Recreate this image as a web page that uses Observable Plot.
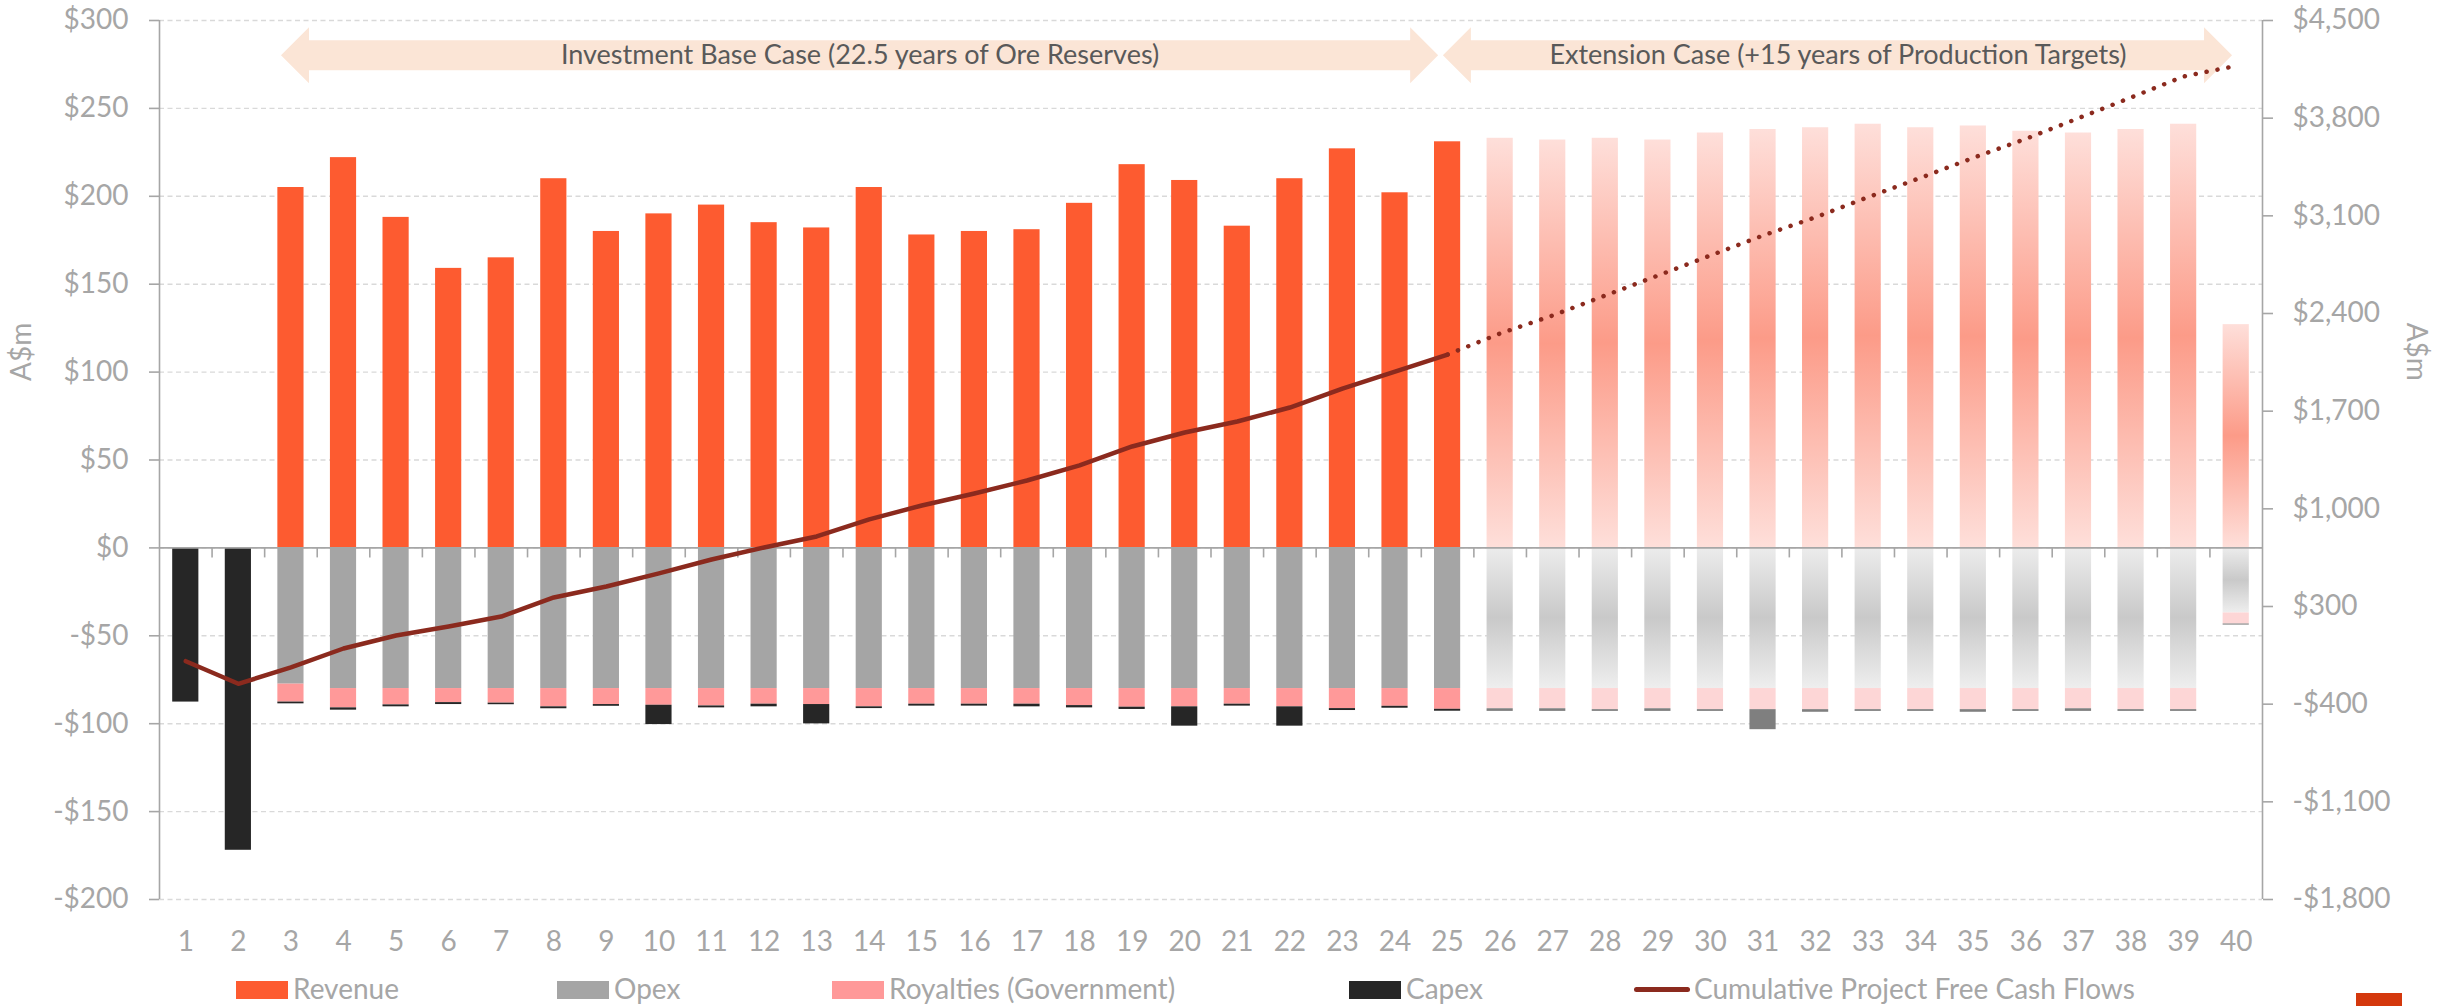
<!DOCTYPE html>
<html>
<head>
<meta charset="utf-8">
<script src="https://cdn.jsdelivr.net/npm/d3@7"></script>
<script src="https://cdn.jsdelivr.net/npm/@observablehq/plot@0.6"></script>
<style>
  body { margin: 0; background: #ffffff; font-family: Lato, "Open Sans", sans-serif; }
  #chart { position: relative; width: 2446px; height: 1006px; overflow: hidden; }
  #legend { position: absolute; left: 0; top: 965px; width: 2446px; height: 41px; }
  .item { position: absolute; top: 5px; height: 36px; display: flex; align-items: center; color: #A6A6A6; font-size: 28px; line-height: 30px; white-space: nowrap; }
  .sw { width: 52px; height: 18px; margin-right: 5px; margin-top: 3px; }
  .ln { width: 56px; height: 5px; border-radius: 3px; margin-right: 4px; margin-top: 3px; }
  #corner { position: absolute; left: 2356px; top: 993px; width: 46px; height: 13px; background: #D4380D; }
</style>
</head>
<body>
<div id="chart"><div id="legend"></div><div id="corner"></div></div>
<script>
// ---------------- data ----------------
const years = [1,2,3,4,5,6,7,8,9,10,11,12,13,14,15,16,17,18,19,20,21,22,23,24,25,26,27,28,29,30,31,32,33,34,35,36,37,38,39,40];
const lastBaseYear = 25;

// A$m per year (left axis)
const revenue = [0,0,205,222,188,159,165,210,180,190,195,185,182,205,178,180,181,196,218,209,183,210,227,202,231,
                 233,232,233,232,236,238,239,241,239,240,237,236,238,241,127];
const opex = [0,0,77.5,80,80,80,80,80,80,80,80,80,80,80,80,80,80,80,80,80,80,80,80,80,80,
              80,80,80,80,80,80,80,80,80,80,80,80,80,80,37];
const royalties = [0,0,10.2,11.0,9.3,8.0,8.3,10.4,9.1,9.5,9.9,8.9,9.1,10.4,8.9,8.9,8.9,9.7,10.6,10.4,8.9,10.4,11.4,10.1,11.8,
                   11.5,11.5,12,11.5,12,12,12,12,12,12,12,11.5,12,12,6.3];
const capex = [87.7,172,1.0,1.3,1.1,1.1,0.9,1.1,1.0,11,1.1,1.5,11,1.0,1.1,1.1,1.5,1.3,1.3,11,1.1,11,1.1,1.1,1.1,
               1.5,1.5,1.0,1.5,1.0,11.4,1.5,1.0,1.0,1.5,1.0,1.5,1.0,1.0,0.6];

// Cumulative project free cash flows, A$m (right axis)
const cumBaseYears = [1,2,3,4,5,6,7,8,9,10,11,12,13,14,15,16,17,18,19,20,21,22,23,24,25];
const cumBase = [-92,-254,-137,-1,92,157,228,365,443,537,637,723,802,924,1024,1110,1203,1311,1447,1547,1626,1726,1862,1984,2106];
const cumExtYears = [25,26,27,28,29,30,31,32,33,34,35,36,37,38,39,40];
const cumExt = [2106,2257,2386,2529,2672,2816,2959,3090,3234,3373,3516,3652,3800,3948,4099,4175];

// Axes
const leftDomain = [-200, 300];
const leftTicks = [-200,-150,-100,-50,0,50,100,150,200,250,300];
const rightDomain = [-1800, 4500];
const rightTicks = [-1800,-1100,-400,300,1000,1700,2400,3100,3800,4500];
const axisTitle = "A$m";

// Phase annotations (years)
const phaseNames = ["Investment Base Case (22.5 years of Ore Reserves)", "Extension Case (+15 years of Production Targets)"];
const phaseFrom = [2.82, 24.92];
const phaseTo = [24.83, 39.93];
const phaseLevel = 280;     // left-axis value at which the phase arrows sit
const axisTitleLevel = 95;  // left-axis value at which the axis titles sit

const seriesNames = ["Revenue", "Opex", "Royalties (Government)", "Capex", "Cumulative Project Free Cash Flows"];

// ---------------- styles ----------------
const baseColors = {Revenue: "#FD5B30", Opex: "#A5A5A5", Royalties: "#FF9999", Capex: "#262626"};
const extColors = {Revenue: "url(#gRev)", Opex: "url(#gOpex)", Royalties: "#FDD6D6", Capex: "#7F7F7F"};
const lineColor = "#8B2A1E";
const legendLeft = [236, 557, 832, 1349, 1634];

// ---------------- derived ----------------
const toLeft = c => leftDomain[0] + (c - rightDomain[0]) * (leftDomain[1] - leftDomain[0]) / (rightDomain[1] - rightDomain[0]);
const fromLeft = v => rightDomain[0] + (v - leftDomain[0]) * (rightDomain[1] - rightDomain[0]) / (leftDomain[1] - leftDomain[0]);
const money = v => { const r = Math.round(v); return (r < 0 ? "-$" : "$") + d3.format(",")(Math.abs(r)); };

const segments = [];
years.forEach((yr, i) => {
  const pal = yr > lastBaseYear ? extColors : baseColors;
  if (revenue[i] > 0) segments.push({year: yr, y1: 0, y2: revenue[i], fill: pal.Revenue});
  let base = 0;
  [["Opex", opex[i]], ["Royalties", royalties[i]], ["Capex", capex[i]]].forEach(([k, v]) => {
    if (v > 0) { segments.push({year: yr, y1: -base, y2: -(base + v), fill: pal[k]}); base += v; }
  });
});
const baseLine = cumBaseYears.map((yr, i) => ({year: yr, value: cumBase[i]}));
const extLine = cumExtYears.map((yr, i) => ({year: yr, value: cumExt[i]}));
const phases = phaseNames.map((name, i) => ({name, from: phaseFrom[i], to: phaseTo[i]}));
const boundaries = years.slice(0, -1).map(y => y + 0.5);

const NS = "http://www.w3.org/2000/svg";
function defsMark() {
  const defs = document.createElementNS(NS, "defs");
  const mk = (id, stops) => {
    const g = document.createElementNS(NS, "linearGradient");
    g.setAttribute("id", id); g.setAttribute("x1", 0); g.setAttribute("y1", 0); g.setAttribute("x2", 0); g.setAttribute("y2", 1);
    stops.forEach(([o, c]) => { const s = document.createElementNS(NS, "stop"); s.setAttribute("offset", o); s.setAttribute("stop-color", c); g.appendChild(s); });
    defs.appendChild(g);
  };
  mk("gRev", [["0", "#FEDFDA"], ["0.5", "#FC9B88"], ["1", "#FEDFDA"]]);
  mk("gOpex", [["0", "#ECECEC"], ["0.5", "#C9C9C9"], ["1", "#EEEEEE"]]);
  return defs;
}
function arrowsMark(index, scales) {
  const g = d3.create("svg:g");
  const yc = scales.y(phaseLevel), head = 28, hh = 28, sh = 15;
  for (const p of phases) {
    const a = scales.x(p.from), b = scales.x(p.to);
    g.append("path")
      .attr("d", `M${a},${yc}L${a+head},${yc-hh}L${a+head},${yc-sh}L${b-head},${yc-sh}L${b-head},${yc-hh}L${b},${yc}L${b-head},${yc+hh}L${b-head},${yc+sh}L${a+head},${yc+sh}L${a+head},${yc+hh}Z`)
      .attr("fill", "#FBE5D6");
  }
  return g.node();
}

const chart = Plot.plot({
  width: 2446,
  height: 965,
  marginLeft: 159,
  marginRight: 184,
  marginTop: 20,
  marginBottom: 66,
  style: {fontFamily: "Lato, 'Open Sans', sans-serif", fontSize: "28px", color: "#A6A6A6", background: "transparent", overflow: "visible"},
  x: {type: "linear", domain: [0.5, 40.5], axis: null},
  y: {domain: leftDomain, axis: null},
  color: {type: "identity"},
  marks: [
    defsMark,
    Plot.gridY(leftTicks, {stroke: "#D9D9D9", strokeOpacity: 1, strokeWidth: 1.4, strokeDasharray: "5 3.5"}),
    arrowsMark,
    Plot.text(phases, {x: d => (d.from + d.to) / 2, y: () => phaseLevel, text: "name", fill: "#595959", fontSize: 27}),
    Plot.rect(segments, {x1: d => d.year - 0.5, x2: d => d.year + 0.5, y1: "y1", y2: "y2", fill: "fill", insetLeft: 13.2, insetRight: 13.2}),
    Plot.ruleY([0], {stroke: "#A6A6A6", strokeWidth: 1.6}),
    Plot.ruleX(boundaries, {y1: 0, y2: 0, insetBottom: -10, stroke: "#A6A6A6", strokeWidth: 1.6}),
    Plot.ruleX([0.5, 40.5], {stroke: "#A6A6A6", strokeWidth: 1.6}),
    Plot.axisY({anchor: "left", ticks: leftTicks, tickFormat: money, tickSize: 10, tickPadding: 21, label: null, strokeWidth: 1.6}),
    Plot.axisY({anchor: "right", ticks: rightTicks.map(toLeft), tickFormat: v => money(fromLeft(v)), tickSize: 10, tickPadding: 20, label: null, strokeWidth: 1.6}),
    Plot.axisX({anchor: "bottom", ticks: years, tickFormat: d => String(d), tickSize: 0, tickPadding: 32, label: null}),
    Plot.line(baseLine, {x: "year", y: d => toLeft(d.value), stroke: lineColor, strokeWidth: 4.5, strokeLinejoin: "round", strokeLinecap: "round"}),
    Plot.line(extLine, {x: "year", y: d => toLeft(d.value), stroke: lineColor, strokeWidth: 4.5, strokeDasharray: "0.1 11", strokeLinecap: "round"}),
    Plot.text([axisTitle], {frameAnchor: "left", y: () => axisTitleLevel, text: d => d, rotate: -90, dx: -137, fill: "#A6A6A6", fontSize: 28}),
    Plot.text([axisTitle], {frameAnchor: "right", y: () => axisTitleLevel, text: d => d, rotate: 90, dx: 153, fill: "#A6A6A6", fontSize: 28})
  ]
});
document.getElementById("chart").prepend(chart);

// legend
const legend = document.getElementById("legend");
const legendColors = [baseColors.Revenue, baseColors.Opex, baseColors.Royalties, baseColors.Capex, lineColor];
seriesNames.forEach((name, i) => {
  const it = document.createElement("div");
  it.className = "item";
  it.style.left = legendLeft[i] + "px";
  const sw = document.createElement("div");
  sw.className = i === 4 ? "ln" : "sw";
  sw.style.background = legendColors[i];
  const tx = document.createElement("span");
  tx.textContent = name;
  it.appendChild(sw); it.appendChild(tx);
  legend.appendChild(it);
});
</script>
</body>
</html>
